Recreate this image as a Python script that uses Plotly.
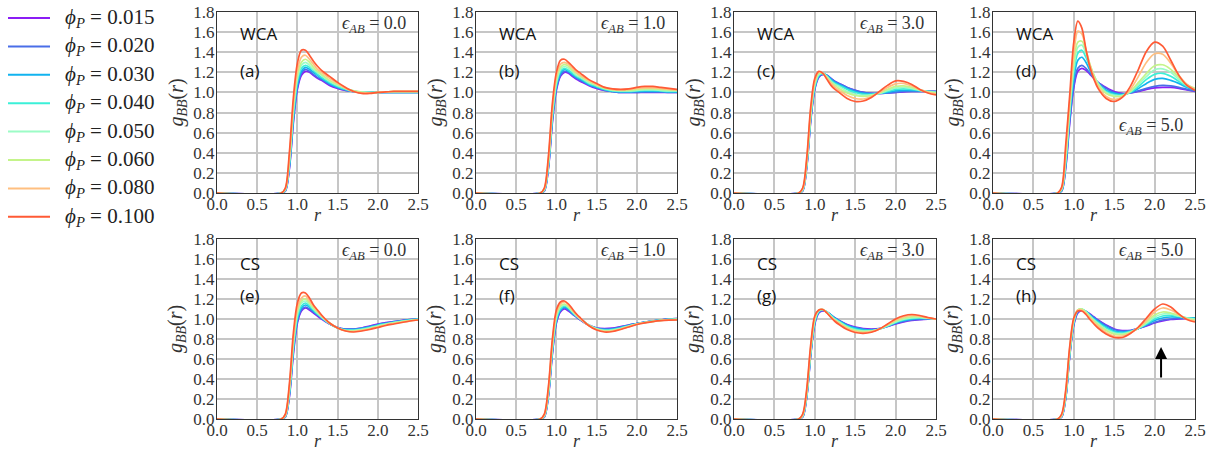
import plotly.graph_objects as go

# ---------------- data ----------------
R = [0.0, 0.8, 0.85, 0.9, 0.95, 1.0, 1.05, 1.1, 1.15, 1.2, 1.25, 1.3, 1.4, 1.5,
     1.6, 1.7, 1.8, 1.9, 2.0, 2.1, 2.2, 2.3, 2.4, 2.5]

PHI = [0.015, 0.020, 0.030, 0.040, 0.050, 0.060, 0.080, 0.100]
PHI_LABELS = ["0.015", "0.020", "0.030", "0.040", "0.050", "0.060", "0.080", "0.100"]
COLORS = ['#8b1df5', '#4a6ee8', '#12b3ef', '#3bf0d8', '#9cfcc6', '#c4f48a', '#ffbf80', '#ff5a35']

PANEL_MODEL = ["WCA", "WCA", "WCA", "WCA", "CS", "CS", "CS", "CS"]
PANEL_TAG = ["(a)", "(b)", "(c)", "(d)", "(e)", "(f)", "(g)", "(h)"]
PANEL_EPS = ["0.0", "1.0", "3.0", "5.0", "0.0", "1.0", "3.0", "5.0"]

g_wca_eps0 = [
    [0, 0, 0.02, 0.24, 0.70, 1.03, 1.17, 1.21, 1.20, 1.17, 1.14, 1.12, 1.07, 1.04, 1.02, 1.01, 1.0, 1.0, 1.0, 1.0, 1.0, 1.0, 1.0, 1.0],
    [0, 0, 0.02, 0.25, 0.72, 1.05, 1.19, 1.23, 1.21, 1.18, 1.15, 1.13, 1.08, 1.05, 1.02, 1.01, 1.0, 1.0, 1.0, 1.0, 1.0, 1.0, 1.0, 1.0],
    [0, 0, 0.03, 0.27, 0.75, 1.08, 1.21, 1.25, 1.23, 1.20, 1.17, 1.14, 1.09, 1.05, 1.03, 1.01, 1.0, 1.0, 1.0, 1.0, 1.0, 1.0, 1.0, 1.0],
    [0, 0, 0.03, 0.29, 0.78, 1.11, 1.24, 1.27, 1.25, 1.22, 1.18, 1.15, 1.10, 1.06, 1.03, 1.01, 1.0, 1.0, 1.0, 1.0, 1.0, 1.0, 1.0, 1.0],
    [0, 0, 0.03, 0.31, 0.82, 1.14, 1.27, 1.30, 1.27, 1.23, 1.20, 1.17, 1.11, 1.07, 1.04, 1.015, 1.005, 1.0, 1.0, 1.005, 1.005, 1.005, 1.005, 1.005],
    [0, 0, 0.04, 0.33, 0.85, 1.17, 1.30, 1.33, 1.30, 1.25, 1.21, 1.18, 1.12, 1.08, 1.04, 1.015, 1.0, 0.995, 1.0, 1.005, 1.01, 1.01, 1.01, 1.01],
    [0, 0, 0.04, 0.36, 0.89, 1.22, 1.35, 1.37, 1.33, 1.28, 1.23, 1.20, 1.14, 1.09, 1.04, 1.01, 0.995, 0.995, 1.0, 1.005, 1.01, 1.01, 1.01, 1.01],
    [0, 0, 0.05, 0.40, 0.95, 1.29, 1.42, 1.42, 1.37, 1.31, 1.26, 1.22, 1.16, 1.10, 1.05, 1.01, 0.99, 0.99, 1.0, 1.005, 1.01, 1.01, 1.01, 1.01],
]

g_wca_eps1 = [
    [0, 0, 0.02, 0.24, 0.70, 1.02, 1.16, 1.20, 1.19, 1.16, 1.13, 1.11, 1.07, 1.04, 1.02, 1.01, 1.0, 1.0, 1.0, 1.0, 1.0, 1.0, 1.0, 1.0],
    [0, 0, 0.02, 0.25, 0.72, 1.04, 1.17, 1.21, 1.20, 1.17, 1.14, 1.12, 1.08, 1.05, 1.02, 1.01, 1.0, 1.0, 1.0, 1.005, 1.005, 1.005, 1.0, 1.0],
    [0, 0, 0.03, 0.26, 0.74, 1.06, 1.19, 1.23, 1.21, 1.18, 1.15, 1.13, 1.08, 1.05, 1.03, 1.01, 1.005, 1.005, 1.01, 1.01, 1.01, 1.01, 1.005, 1.005],
    [0, 0, 0.03, 0.28, 0.77, 1.08, 1.21, 1.24, 1.22, 1.19, 1.16, 1.14, 1.09, 1.06, 1.03, 1.015, 1.01, 1.01, 1.015, 1.02, 1.02, 1.015, 1.01, 1.01],
    [0, 0, 0.03, 0.29, 0.79, 1.10, 1.23, 1.26, 1.24, 1.21, 1.17, 1.15, 1.10, 1.07, 1.04, 1.02, 1.015, 1.015, 1.02, 1.025, 1.025, 1.02, 1.015, 1.015],
    [0, 0, 0.04, 0.31, 0.82, 1.13, 1.25, 1.28, 1.26, 1.22, 1.19, 1.16, 1.11, 1.07, 1.04, 1.025, 1.02, 1.02, 1.03, 1.035, 1.035, 1.03, 1.025, 1.02],
    [0, 0, 0.04, 0.33, 0.85, 1.16, 1.28, 1.30, 1.28, 1.24, 1.20, 1.17, 1.12, 1.08, 1.05, 1.03, 1.025, 1.03, 1.04, 1.045, 1.045, 1.04, 1.03, 1.025],
    [0, 0, 0.05, 0.36, 0.89, 1.20, 1.32, 1.33, 1.30, 1.26, 1.22, 1.19, 1.13, 1.09, 1.05, 1.035, 1.03, 1.035, 1.05, 1.06, 1.06, 1.05, 1.04, 1.03],
]

g_wca_eps3 = [
    [0, 0, 0.02, 0.25, 0.72, 1.03, 1.15, 1.18, 1.17, 1.14, 1.11, 1.09, 1.05, 1.02, 1.0, 0.99, 0.99, 0.995, 1.0, 1.005, 1.01, 1.01, 1.01, 1.01],
    [0, 0, 0.02, 0.26, 0.73, 1.04, 1.16, 1.18, 1.17, 1.14, 1.11, 1.09, 1.05, 1.02, 1.0, 0.99, 0.99, 0.995, 1.0, 1.01, 1.01, 1.01, 1.01, 1.01],
    [0, 0, 0.03, 0.27, 0.75, 1.05, 1.17, 1.19, 1.17, 1.13, 1.10, 1.08, 1.04, 1.01, 0.99, 0.985, 0.99, 1.0, 1.015, 1.02, 1.02, 1.015, 1.01, 1.005],
    [0, 0, 0.03, 0.28, 0.76, 1.06, 1.17, 1.19, 1.16, 1.12, 1.09, 1.07, 1.03, 1.0, 0.98, 0.98, 0.99, 1.01, 1.03, 1.035, 1.03, 1.02, 1.01, 1.0],
    [0, 0, 0.03, 0.29, 0.78, 1.08, 1.18, 1.19, 1.16, 1.11, 1.08, 1.06, 1.01, 0.98, 0.97, 0.975, 0.99, 1.02, 1.045, 1.05, 1.04, 1.02, 1.005, 1.0],
    [0, 0, 0.04, 0.30, 0.80, 1.09, 1.19, 1.19, 1.15, 1.10, 1.07, 1.04, 0.995, 0.97, 0.96, 0.97, 0.995, 1.03, 1.06, 1.065, 1.05, 1.025, 1.005, 0.995],
    [0, 0, 0.04, 0.32, 0.83, 1.11, 1.20, 1.19, 1.14, 1.09, 1.05, 1.02, 0.97, 0.94, 0.935, 0.96, 1.0, 1.05, 1.085, 1.09, 1.065, 1.03, 1.0, 0.985],
    [0, 0, 0.05, 0.35, 0.86, 1.14, 1.21, 1.19, 1.13, 1.07, 1.03, 1.0, 0.94, 0.91, 0.915, 0.95, 1.01, 1.07, 1.115, 1.11, 1.08, 1.03, 0.995, 0.975],
]

g_wca_eps5 = [
    [0, 0, 0.02, 0.25, 0.70, 1.05, 1.21, 1.24, 1.22, 1.18, 1.14, 1.10, 1.05, 1.01, 0.99, 0.995, 1.01, 1.03, 1.045, 1.05, 1.05, 1.04, 1.025, 1.01],
    [0, 0, 0.02, 0.26, 0.72, 1.07, 1.24, 1.27, 1.24, 1.19, 1.14, 1.10, 1.04, 1.0, 0.985, 0.995, 1.015, 1.04, 1.06, 1.07, 1.065, 1.05, 1.03, 1.015],
    [0, 0, 0.03, 0.29, 0.77, 1.14, 1.32, 1.35, 1.30, 1.22, 1.15, 1.09, 1.02, 0.99, 0.98, 1.0, 1.04, 1.09, 1.13, 1.14, 1.12, 1.09, 1.05, 1.02],
    [0, 0, 0.03, 0.31, 0.81, 1.20, 1.39, 1.42, 1.35, 1.25, 1.16, 1.09, 1.01, 0.98, 0.975, 1.0, 1.06, 1.13, 1.18, 1.19, 1.16, 1.11, 1.06, 1.03],
    [0, 0, 0.04, 0.34, 0.84, 1.25, 1.45, 1.47, 1.39, 1.27, 1.17, 1.09, 1.0, 0.97, 0.97, 1.01, 1.08, 1.16, 1.225, 1.235, 1.20, 1.13, 1.07, 1.035],
    [0, 0, 0.04, 0.36, 0.87, 1.30, 1.50, 1.51, 1.42, 1.28, 1.17, 1.08, 0.99, 0.96, 0.965, 1.01, 1.10, 1.19, 1.265, 1.275, 1.23, 1.15, 1.08, 1.04],
    [0, 0, 0.05, 0.42, 0.92, 1.38, 1.61, 1.58, 1.43, 1.27, 1.15, 1.06, 0.96, 0.93, 0.955, 1.03, 1.16, 1.30, 1.385, 1.38, 1.29, 1.17, 1.08, 1.03],
    [0, 0, 0.06, 0.48, 0.98, 1.50, 1.71, 1.64, 1.43, 1.25, 1.13, 1.04, 0.94, 0.91, 0.95, 1.06, 1.23, 1.41, 1.50, 1.46, 1.32, 1.17, 1.07, 1.02],
]

g_cs_eps0 = [
    [0, 0, 0.02, 0.22, 0.65, 0.96, 1.08, 1.11, 1.09, 1.06, 1.03, 1.0, 0.95, 0.915, 0.90, 0.90, 0.91, 0.93, 0.95, 0.965, 0.975, 0.985, 0.995, 1.0],
    [0, 0, 0.02, 0.23, 0.67, 0.98, 1.09, 1.12, 1.10, 1.07, 1.04, 1.01, 0.95, 0.915, 0.90, 0.90, 0.91, 0.925, 0.945, 0.96, 0.975, 0.985, 0.995, 1.0],
    [0, 0, 0.03, 0.25, 0.70, 1.00, 1.11, 1.14, 1.12, 1.08, 1.05, 1.01, 0.955, 0.91, 0.895, 0.895, 0.905, 0.92, 0.94, 0.955, 0.97, 0.98, 0.99, 0.998],
    [0, 0, 0.03, 0.26, 0.72, 1.02, 1.13, 1.16, 1.13, 1.09, 1.05, 1.02, 0.955, 0.91, 0.89, 0.89, 0.90, 0.915, 0.935, 0.95, 0.965, 0.98, 0.99, 0.996],
    [0, 0, 0.03, 0.28, 0.75, 1.05, 1.16, 1.18, 1.15, 1.10, 1.06, 1.02, 0.955, 0.91, 0.885, 0.885, 0.895, 0.91, 0.93, 0.95, 0.965, 0.975, 0.985, 0.995],
    [0, 0, 0.04, 0.30, 0.78, 1.08, 1.18, 1.20, 1.16, 1.11, 1.07, 1.03, 0.96, 0.91, 0.885, 0.88, 0.89, 0.905, 0.925, 0.945, 0.96, 0.975, 0.985, 0.993],
    [0, 0, 0.04, 0.32, 0.81, 1.11, 1.21, 1.23, 1.18, 1.13, 1.08, 1.03, 0.96, 0.91, 0.88, 0.875, 0.885, 0.90, 0.92, 0.94, 0.955, 0.97, 0.98, 0.99],
    [0, 0, 0.05, 0.35, 0.86, 1.16, 1.26, 1.26, 1.21, 1.14, 1.09, 1.04, 0.96, 0.91, 0.88, 0.87, 0.88, 0.895, 0.915, 0.935, 0.95, 0.965, 0.98, 0.99],
]

g_cs_eps1 = [
    [0, 0, 0.02, 0.22, 0.65, 0.96, 1.07, 1.10, 1.08, 1.05, 1.02, 0.99, 0.94, 0.91, 0.905, 0.91, 0.925, 0.94, 0.955, 0.97, 0.98, 0.99, 1.0, 1.005],
    [0, 0, 0.02, 0.23, 0.66, 0.97, 1.08, 1.11, 1.09, 1.05, 1.02, 0.99, 0.94, 0.91, 0.90, 0.905, 0.92, 0.94, 0.955, 0.97, 0.98, 0.99, 0.998, 1.003],
    [0, 0, 0.03, 0.24, 0.68, 0.99, 1.09, 1.12, 1.10, 1.06, 1.03, 1.0, 0.94, 0.905, 0.895, 0.90, 0.915, 0.935, 0.955, 0.97, 0.98, 0.99, 0.996, 1.0],
    [0, 0, 0.03, 0.25, 0.70, 1.00, 1.10, 1.13, 1.11, 1.07, 1.03, 1.0, 0.94, 0.905, 0.89, 0.895, 0.91, 0.93, 0.95, 0.965, 0.978, 0.988, 0.995, 0.998],
    [0, 0, 0.03, 0.26, 0.72, 1.02, 1.12, 1.14, 1.12, 1.07, 1.03, 1.0, 0.94, 0.90, 0.885, 0.89, 0.905, 0.93, 0.95, 0.965, 0.977, 0.987, 0.994, 0.997],
    [0, 0, 0.04, 0.28, 0.74, 1.04, 1.13, 1.15, 1.12, 1.08, 1.04, 1.0, 0.94, 0.90, 0.88, 0.885, 0.90, 0.925, 0.95, 0.965, 0.976, 0.986, 0.993, 0.996],
    [0, 0, 0.04, 0.30, 0.77, 1.06, 1.15, 1.17, 1.14, 1.09, 1.04, 1.0, 0.935, 0.895, 0.875, 0.88, 0.90, 0.925, 0.948, 0.964, 0.975, 0.985, 0.99, 0.993],
    [0, 0, 0.05, 0.32, 0.80, 1.09, 1.17, 1.18, 1.15, 1.10, 1.05, 1.01, 0.935, 0.89, 0.87, 0.875, 0.895, 0.92, 0.945, 0.962, 0.974, 0.983, 0.988, 0.99],
]

g_cs_eps3 = [
    [0, 0, 0.02, 0.22, 0.64, 0.95, 1.06, 1.08, 1.07, 1.04, 1.01, 0.985, 0.945, 0.92, 0.905, 0.90, 0.905, 0.925, 0.95, 0.97, 0.985, 0.993, 0.998, 1.0],
    [0, 0, 0.02, 0.22, 0.65, 0.96, 1.07, 1.085, 1.07, 1.04, 1.01, 0.985, 0.94, 0.915, 0.90, 0.895, 0.905, 0.925, 0.955, 0.975, 0.99, 0.997, 1.0, 1.0],
    [0, 0, 0.03, 0.23, 0.66, 0.97, 1.07, 1.09, 1.07, 1.04, 1.005, 0.98, 0.935, 0.91, 0.895, 0.89, 0.90, 0.93, 0.96, 0.985, 0.998, 1.005, 1.005, 1.0],
    [0, 0, 0.03, 0.24, 0.67, 0.98, 1.08, 1.09, 1.07, 1.035, 1.0, 0.975, 0.93, 0.90, 0.885, 0.885, 0.90, 0.93, 0.965, 0.99, 1.005, 1.01, 1.005, 1.0],
    [0, 0, 0.03, 0.25, 0.69, 0.99, 1.08, 1.095, 1.07, 1.03, 0.995, 0.97, 0.92, 0.89, 0.88, 0.88, 0.90, 0.935, 0.97, 0.998, 1.012, 1.015, 1.008, 1.0],
    [0, 0, 0.04, 0.26, 0.70, 1.00, 1.09, 1.095, 1.065, 1.025, 0.99, 0.965, 0.915, 0.885, 0.875, 0.878, 0.90, 0.94, 0.98, 1.008, 1.022, 1.02, 1.01, 1.0],
    [0, 0, 0.04, 0.28, 0.72, 1.02, 1.09, 1.095, 1.06, 1.02, 0.985, 0.955, 0.905, 0.875, 0.865, 0.873, 0.90, 0.945, 0.99, 1.02, 1.035, 1.028, 1.012, 1.0],
    [0, 0, 0.05, 0.30, 0.75, 1.03, 1.09, 1.095, 1.06, 1.015, 0.975, 0.945, 0.895, 0.865, 0.857, 0.868, 0.90, 0.95, 1.0, 1.032, 1.045, 1.035, 1.015, 1.0],
]

g_cs_eps5 = [
    [0, 0, 0.02, 0.21, 0.63, 0.94, 1.06, 1.085, 1.075, 1.05, 1.02, 0.99, 0.94, 0.90, 0.885, 0.885, 0.905, 0.93, 0.96, 0.98, 0.995, 1.0, 1.005, 1.01],
    [0, 0, 0.02, 0.21, 0.64, 0.95, 1.07, 1.09, 1.075, 1.045, 1.015, 0.985, 0.935, 0.895, 0.88, 0.883, 0.905, 0.935, 0.965, 0.99, 1.0, 1.005, 1.008, 1.01],
    [0, 0, 0.03, 0.22, 0.65, 0.96, 1.08, 1.095, 1.075, 1.04, 1.005, 0.975, 0.92, 0.88, 0.87, 0.88, 0.905, 0.945, 0.985, 1.01, 1.02, 1.018, 1.012, 1.008],
    [0, 0, 0.03, 0.23, 0.66, 0.97, 1.085, 1.10, 1.075, 1.035, 0.995, 0.965, 0.91, 0.87, 0.86, 0.875, 0.905, 0.95, 1.0, 1.03, 1.035, 1.025, 1.012, 1.005],
    [0, 0, 0.03, 0.24, 0.67, 0.98, 1.09, 1.10, 1.07, 1.03, 0.99, 0.955, 0.895, 0.86, 0.85, 0.87, 0.91, 0.96, 1.02, 1.05, 1.05, 1.03, 1.01, 1.0],
    [0, 0, 0.04, 0.25, 0.69, 0.99, 1.09, 1.10, 1.065, 1.02, 0.98, 0.945, 0.885, 0.85, 0.845, 0.865, 0.91, 0.97, 1.04, 1.07, 1.06, 1.035, 1.005, 0.99],
    [0, 0, 0.04, 0.27, 0.71, 1.0, 1.09, 1.09, 1.055, 1.01, 0.965, 0.93, 0.865, 0.83, 0.83, 0.86, 0.915, 0.985, 1.07, 1.11, 1.09, 1.045, 1.0, 0.98],
    [0, 0, 0.05, 0.29, 0.73, 1.01, 1.08, 1.08, 1.045, 0.995, 0.95, 0.91, 0.85, 0.815, 0.815, 0.855, 0.92, 1.01, 1.10, 1.15, 1.12, 1.05, 0.995, 0.97],
]

PANELS = [g_wca_eps0, g_wca_eps1, g_wca_eps3, g_wca_eps5,
          g_cs_eps0, g_cs_eps1, g_cs_eps3, g_cs_eps5]

# arrow in panel (h): tail and head in data units
ARROW_R = 2.08
ARROW_TAIL = 0.40
ARROW_HEAD = 0.72

# ---------------- layout ----------------
W, H = 1216, 453
COL_PX = [(217, 418), (476, 677), (734, 936), (993, 1195)]   # page pixels
ROW_PX = [(12, 193), (239, 419)]
LEG_TOP, LEG_STEP = 18, 28.4
LEG_X0, LEG_X1, LEG_TX = 8, 50, 63


def px_x(p):
    return p / W


def px_y(p):
    return 1 - p / H


SERIF = "Liberation Serif, DejaVu Serif, serif"
SANS = "Open Sans, DejaVu Sans, sans-serif"

fig = go.Figure()
layout = dict(
    width=W, height=H,
    margin=dict(l=0, r=0, t=0, b=0),
    paper_bgcolor="white", plot_bgcolor="white",
    showlegend=False,
)
annotations = []
shapes = []

for idx, data in enumerate(PANELS):
    row, col = divmod(idx, 4)
    sfx = "" if idx == 0 else str(idx + 1)
    xd = [px_x(COL_PX[col][0]), px_x(COL_PX[col][1])]
    yd = [px_y(ROW_PX[row][1]), px_y(ROW_PX[row][0])]
    axis_common = dict(showgrid=True, gridcolor="#c6c6c6", gridwidth=1.5,
                       showline=True, mirror=True, linecolor="#333", linewidth=1.3,
                       zeroline=False, ticks="", automargin=False,
                       ticklabeloverflow="allow",
                       tickfont=dict(family=SERIF, size=17, color="#333"))
    layout["xaxis" + sfx] = dict(domain=xd, anchor="y" + sfx, range=[0, 2.5],
                                 tick0=0, dtick=0.5, tickformat=".1f",
                                 ticklabelstandoff=-5, **axis_common)
    layout["yaxis" + sfx] = dict(domain=yd, anchor="x" + sfx, range=[0, 1.8],
                                 tick0=0, dtick=0.2, tickformat=".1f",
                                 ticklabelstandoff=-2, **axis_common)
    for k, yvals in enumerate(data):
        fig.add_trace(go.Scatter(
            x=R, y=yvals, mode="lines",
            line=dict(color=COLORS[k], width=1.7, shape="spline", smoothing=0.9),
            name="ϕP = " + PHI_LABELS[k],
            xaxis="x" + sfx, yaxis="y" + sfx,
        ))
    xr, yr = "x" + sfx, "y" + sfx
    top_y = 1.59 if row == 0 else 1.56
    tag_y = 1.22 if row == 0 else 1.24
    annotations.append(dict(x=0.26, y=top_y, xref=xr, yref=yr, text=PANEL_MODEL[idx],
                            showarrow=False, xanchor="left", yanchor="middle",
                            font=dict(family=SANS, size=17, color="#111")))
    annotations.append(dict(x=0.26, y=tag_y, xref=xr, yref=yr, text=PANEL_TAG[idx],
                            showarrow=False, xanchor="left", yanchor="middle",
                            font=dict(family=SANS, size=17, color="#111")))
    eps_y = 0.66 if idx == 3 else 1.68
    annotations.append(dict(x=2.38, y=eps_y, xref=xr, yref=yr,
                            text="<i>ϵ</i><sub><i>AB</i></sub> = " + PANEL_EPS[idx],
                            showarrow=False, xanchor="right", yanchor="middle",
                            font=dict(family=SERIF, size=18, color="#333")))
    # axis titles
    annotations.append(dict(x=px_x(COL_PX[col][0] - 40), y=(yd[0] + yd[1]) / 2,
                            xref="paper", yref="paper", textangle=-90,
                            text="<i>g</i><sub><i>BB</i></sub>(<i>r</i>)",
                            showarrow=False, xanchor="center", yanchor="middle",
                            font=dict(family=SERIF, size=20, color="#333")))
    annotations.append(dict(x=(xd[0] + xd[1]) / 2, y=px_y(ROW_PX[row][1] + 22),
                            xref="paper", yref="paper", text="<i>r</i>",
                            showarrow=False, xanchor="center", yanchor="middle",
                            font=dict(family=SERIF, size=18, color="#333")))

# legend (key lines + labels) on the left
for k, lab in enumerate(PHI_LABELS):
    yk = px_y(LEG_TOP + k * LEG_STEP)
    shapes.append(dict(type="line", xref="paper", yref="paper",
                       x0=px_x(LEG_X0), x1=px_x(LEG_X1), y0=yk, y1=yk,
                       line=dict(color=COLORS[k], width=2)))
    annotations.append(dict(x=px_x(LEG_TX), y=yk, xref="paper", yref="paper",
                            text="<i>ϕ</i><sub><i>P</i></sub> = " + lab,
                            showarrow=False, xanchor="left", yanchor="middle",
                            font=dict(family=SERIF, size=21, color="#222")))

annotations.append(dict(x=ARROW_R, y=ARROW_HEAD, ax=ARROW_R, ay=ARROW_TAIL,
                        xref="x8", yref="y8", axref="x8", ayref="y8",
                        showarrow=True, arrowhead=2, arrowsize=1.2, arrowwidth=2,
                        arrowcolor="black", text=""))

layout["annotations"] = annotations
layout["shapes"] = shapes
fig.update_layout(**layout)
fig.write_html("out.html",
               config={"displayModeBar": False},
               post_script="document.body.style.margin='0px';"
                           "document.body.style.overflow='hidden';")
